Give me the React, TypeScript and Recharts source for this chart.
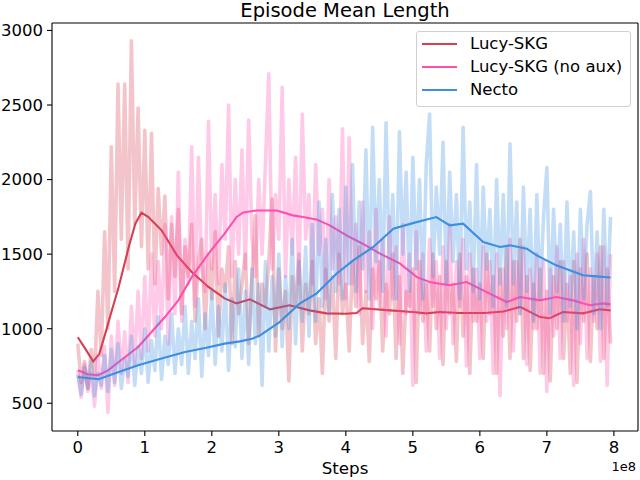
import React from 'react';
import { LineChart, Line, XAxis, YAxis, ReferenceLine } from 'recharts';

// raw samples are every 0.05e8 steps, starting at 0
const rawStep = 0.05;

const lucyRaw = [
  900, 640, 780, 600, 860, 680, 1250, 820, 1650, 1000,
  2220, 1250, 2640, 1600, 2640, 1400, 2930, 1700, 2480, 1550,
  2330, 1400, 2310, 1300, 1940, 1500, 1890, 1200, 1700, 1350,
  1800, 1100, 1550, 1350, 1700, 1050, 1450, 1600, 1000, 1500,
  1200, 1650, 950, 1400, 1250, 1550, 900, 1450, 1100, 1300,
  1500, 900, 1350, 1760, 950, 1300, 1150, 1450, 1870, 850,
  1400, 1000, 1250, 650, 1350, 1150, 1500, 850, 1300, 1100,
  1450, 900, 1200, 700, 1400, 1050, 1350, 800, 1500, 1100,
  1300, 850, 1450, 1150, 1550, 900, 1250, 780, 1400, 1200,
  1450, 850, 1300, 1100, 1500, 800, 1350, 700, 1250, 1150,
  1400, 640, 1450, 1050, 1300, 850, 1500, 1000, 1350, 760,
  1450, 1100, 1300, 780, 1500, 950, 1350, 700, 1400, 1050,
  1300, 800, 1500, 1100, 1350, 700, 1400, 950, 1550, 800,
  1450, 1050, 1600, 800, 1350, 720, 1300, 1000, 1400, 700,
  1250, 650, 1350, 1000, 1450, 800, 1300, 700, 1450, 640,
  1400, 1050, 1500, 780, 1350, 1000, 1550, 800, 1400, 900,
];

const noAuxRaw = [
  720, 540, 760, 580, 700, 480, 820, 600, 880, 440,
  950, 620, 1050, 700, 980, 640, 1150, 760, 1250, 800,
  1350, 850, 1500, 950, 1450, 1000, 1700, 900, 1750, 1100,
  2050, 1050, 1600, 1300, 2220, 1150, 2150, 1400, 1250, 2390,
  1400, 1900, 1300, 2100, 1600, 2500, 1350, 2000, 1500, 2200,
  1400, 2400, 1600, 1350, 2000, 1500, 2100, 2710, 1400, 1900,
  1600, 2620, 1350, 2000, 1500, 2150, 1300, 2440, 1600, 1900,
  1300, 2100, 1500, 1800, 1200, 2000, 1400, 1750, 1300, 2340,
  1200, 2280, 1300, 1700, 1100, 1850, 1250, 1650, 1000, 1800,
  1150, 1600, 950, 1750, 1200, 1550, 900, 1700, 1100, 1500,
  620, 1650, 1100, 1500, 850, 1600, 1150, 1450, 800, 1550,
  1000, 1700, 900, 1450, 1150, 1600, 750, 1500, 1050, 1400,
  800, 1550, 1050, 1450, 700, 1500, 550, 1400, 1000, 1600,
  850, 1450, 1100, 1550, 760, 1400, 1000, 1500, 700, 1450,
  580, 1400, 950, 1550, 800, 1450, 1050, 1350, 620, 1500,
  900, 1600, 800, 1400, 1050, 1500, 780, 1550, 620, 1500,
];

const nectoRaw = [
  690, 560, 740, 600, 780, 550, 700, 620, 820, 580,
  860, 640, 900, 600, 800, 680, 950, 620, 880, 700,
  1000, 640, 920, 720, 1080, 660, 950, 760, 1100, 700,
  1000, 760, 1150, 700, 1050, 800, 1200, 680, 1100, 820,
  1250, 760, 1150, 850, 1300, 720, 1200, 880, 1400, 800,
  1250, 760, 1400, 900, 1300, 620, 1450, 850, 1350, 950,
  1500, 880, 1350, 1000, 1600, 900, 1450, 1050, 1550, 950,
  1700, 1050, 1850, 1150, 1600, 1100, 1900, 1250, 1800, 1200,
  1950, 1300, 2100, 1250, 1850, 1400, 2200, 1200, 2350, 1450,
  2000, 1250, 2380, 1400, 1900, 1200, 2320, 1500, 2050, 1250,
  2150, 1400, 2000, 1200, 2100, 2440, 1350, 1950, 1500, 2250,
  1300, 2050, 1450, 1900, 1200, 2350, 1400, 1850, 1250, 2100,
  1200, 1950, 1400, 1800, 1150, 2000, 1300, 1900, 1150, 2240,
  1300, 1850, 1100, 1950, 1250, 1800, 1050, 1900, 1200, 1750,
  2080, 1100, 1800, 1250, 1700, 1050, 1850, 1150, 1650, 1000,
  1800, 1200, 1700, 1920, 1100, 1650, 1000, 1800, 1150, 1750,
];

// smoothed curves
const lucySteps = [0, 0.12, 0.23, 0.32, 0.41, 0.5, 0.61, 0.7, 0.76, 0.86, 0.95, 1.05, 1.25, 1.48, 1.7, 1.95, 2.19, 2.37, 2.57, 2.87, 3.16, 3.46, 3.71, 4.0, 4.16, 4.25, 4.66, 5.0, 5.2, 5.4, 5.7, 6.07, 6.35, 6.6, 6.9, 7.04, 7.24, 7.54, 7.79, 7.95];
const lucyMean = [943, 860, 780, 830, 967, 1110, 1280, 1440, 1548, 1706, 1778, 1750, 1660, 1492, 1380, 1280, 1203, 1170, 1197, 1130, 1157, 1123, 1103, 1100, 1105, 1137, 1123, 1112, 1103, 1112, 1105, 1105, 1115, 1146, 1078, 1070, 1112, 1103, 1130, 1123];

const noAuxSteps = [0, 0.15, 0.3, 0.45, 0.61, 0.9, 1.1, 1.3, 1.5, 1.7, 1.95, 2.19, 2.37, 2.47, 2.67, 2.97, 3.21, 3.36, 3.56, 3.76, 4.01, 4.25, 4.51, 4.81, 5.06, 5.25, 5.4, 5.55, 5.8, 6.05, 6.4, 6.6, 6.9, 7.14, 7.39, 7.64, 7.84, 7.95];
const noAuxMean = [721, 695, 688, 720, 777, 877, 978, 1078, 1190, 1346, 1503, 1637, 1749, 1780, 1793, 1793, 1760, 1749, 1733, 1693, 1626, 1570, 1503, 1436, 1346, 1313, 1302, 1291, 1313, 1257, 1179, 1212, 1190, 1212, 1190, 1157, 1170, 1163];

const nectoSteps = [0, 0.31, 0.61, 0.9, 1.25, 1.6, 1.9, 2.19, 2.42, 2.6, 2.72, 3.0, 3.31, 3.56, 3.86, 4.11, 4.41, 4.71, 5.0, 5.25, 5.35, 5.55, 5.75, 6.05, 6.3, 6.45, 6.7, 6.85, 7.14, 7.54, 7.74, 7.95];
const nectoMean = [676, 661, 710, 755, 800, 844, 871, 900, 915, 933, 955, 1040, 1168, 1235, 1369, 1458, 1548, 1670, 1708, 1738, 1749, 1693, 1704, 1581, 1548, 1559, 1537, 1492, 1425, 1358, 1351, 1343];

const xTicks = [0, 1, 2, 3, 4, 5, 6, 7, 8];
const yTicks = [500, 1000, 1500, 2000, 2500, 3000];
const xDomain = [-0.385, 8.36];
const yDomain = [314, 3050];

const RED = '#d63f52';
const PINK = '#ff4fb0';
const BLUE = '#3b8fe0';

const legendItems = [
  { name: 'Lucy-SKG', color: RED },
  { name: 'Lucy-SKG (no aux)', color: PINK },
  { name: 'Necto', color: BLUE },
];

const toRaw = (vals: number[]) => vals.map((y, i) => ({ x: +(i * rawStep).toFixed(2), y }));
const toPairs = (xs: number[], ys: number[]) => xs.map((x, i) => ({ x, y: ys[i] }));

const font = 'DejaVu Sans, sans-serif';
const tickStyle = { fontSize: 16.5, fill: '#000', fontFamily: font };

const rawProps = { strokeOpacity: 0.3, strokeWidth: 3.6, dot: false, isAnimationActive: false, strokeLinejoin: 'round' as const };
const meanProps = { strokeWidth: 2.1, dot: false, isAnimationActive: false };

export default function App() {
  return (
    <div style={{ position: 'absolute', left: 0, top: 0, width: 640, height: 480, background: '#fff', fontFamily: font, overflow: 'hidden' }}>
      <LineChart width={640} height={480} margin={{ top: 23, right: 2, left: 0, bottom: 0 }}>
        <XAxis
          type="number"
          dataKey="x"
          domain={xDomain}
          ticks={xTicks}
          allowDataOverflow
          height={49}
          tick={tickStyle}
          tickSize={5}
          tickMargin={5}
          stroke="#000"
          strokeWidth={1.1}
        />
        <YAxis
          type="number"
          domain={yDomain}
          ticks={yTicks}
          allowDataOverflow
          width={52}
          tick={tickStyle}
          tickSize={5}
          tickMargin={4}
          stroke="#000"
          strokeWidth={1.1}
        />
        <Line data={toRaw(lucyRaw)} dataKey="y" stroke={RED} {...rawProps} />
        <Line data={toPairs(lucySteps, lucyMean)} dataKey="y" stroke={RED} {...meanProps} />
        <Line data={toRaw(noAuxRaw)} dataKey="y" stroke={PINK} {...rawProps} />
        <Line data={toPairs(noAuxSteps, noAuxMean)} dataKey="y" stroke={PINK} {...meanProps} />
        <Line data={toRaw(nectoRaw)} dataKey="y" stroke={BLUE} {...rawProps} />
        <Line data={toPairs(nectoSteps, nectoMean)} dataKey="y" stroke={BLUE} {...meanProps} />
        <ReferenceLine y={yDomain[1]} stroke="#000" strokeWidth={1.1} />
        <ReferenceLine x={xDomain[1]} stroke="#000" strokeWidth={1.1} />
      </LineChart>
      <div style={{ position: 'absolute', left: 52, width: 586, top: 1, textAlign: 'center', fontSize: 19.5, lineHeight: 1 }}>
        Episode Mean Length
      </div>
      <div style={{ position: 'absolute', left: 52, width: 586, top: 460, textAlign: 'center', fontSize: 16.7, lineHeight: 1 }}>
        Steps
      </div>
      <div style={{ position: 'absolute', right: 4, top: 460, fontSize: 13, lineHeight: 1 }}>1e8</div>
      <div
        style={{
          position: 'absolute', left: 416, top: 31, width: 215, height: 76, boxSizing: 'border-box',
          border: '1px solid #d0d0d0', borderRadius: 3, background: 'rgba(255,255,255,0.8)',
        }}
      >
        {legendItems.map((item, i) => (
          <div key={item.name} style={{ position: 'absolute', left: 5, top: 3 + i * 23, height: 18, display: 'flex', alignItems: 'center' }}>
            <div style={{ width: 35, height: 2, background: item.color }} />
            <span style={{ marginLeft: 13, fontSize: 16.5, lineHeight: 1, whiteSpace: 'nowrap' }}>{item.name}</span>
          </div>
        ))}
      </div>
    </div>
  );
}
